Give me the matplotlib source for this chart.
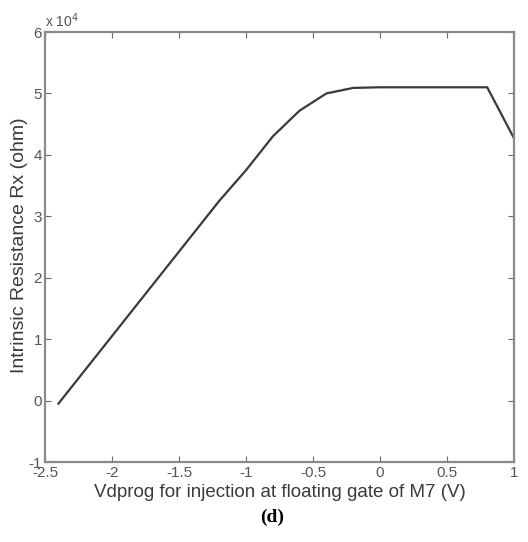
import matplotlib.pyplot as plt

plt.rcParams['font.family'] = ['Liberation Sans', 'DejaVu Sans']
plt.rcParams['axes.unicode_minus'] = False

# Programming voltage (V) and intrinsic resistance (x 1e4 ohm)
vdprog = [-2.4, -2.2, -2.0, -1.8, -1.6, -1.4, -1.2, -1.0, -0.8, -0.6,
          -0.4, -0.2, 0.0, 0.2, 0.4, 0.6, 0.8, 1.0]
rx = [-0.05, 0.5, 1.05, 1.6, 2.15, 2.7, 3.25, 3.75, 4.3, 4.72,
      5.0, 5.09, 5.1, 5.1, 5.1, 5.1, 5.1, 4.27]

xticks = [-2.5, -2, -1.5, -1, -0.5, 0, 0.5, 1]
xticklabels = ['-2.5', '-2', '-1.5', '-1', '-0.5', '0', '0.5', '1']
yticks = [-1, 0, 1, 2, 3, 4, 5, 6]

grey = '#6a6a6a'

fig = plt.figure(figsize=(5.28, 5.42), dpi=100)
ax = fig.add_axes([45 / 528, 1 - 462 / 542, 469 / 528, 430 / 542])

ax.plot(vdprog, rx, color='#3a3a3a', lw=1.6)

ax.set_xlim(-2.5, 1)
ax.set_ylim(-1, 6)
ax.set_xticks(xticks)
ax.set_xticklabels(xticklabels)
ax.set_yticks(yticks)
ax.tick_params(direction='in', length=4, width=0.8, color=grey,
               labelcolor='#555555', labelsize=11, top=True, right=True, pad=3)
ax.tick_params(axis='y', pad=2)
for s in ax.spines.values():
    s.set_color('#8a8a8a')
    s.set_linewidth(1.6)

ax.text(0.0, 1.004, r'x 10$^4$', transform=ax.transAxes, fontsize=10,
        color='#555555', ha='left', va='bottom')

ax.set_xlabel('Vdprog for injection at floating gate of M7 (V)',
              fontsize=13.5, color='#3a3a3a', labelpad=3)
ax.set_ylabel('Intrinsic Resistance Rx (ohm)', fontsize=14,
              color='#3a3a3a', va='center')
ax.yaxis.set_label_coords(-0.055, 0.505)

fig.text(272 / 528, 1 - 517 / 542, '(d)', family='Liberation Serif',
         fontweight='bold', fontsize=14, ha='center', va='center')

fig.savefig('out.png', dpi=100)
